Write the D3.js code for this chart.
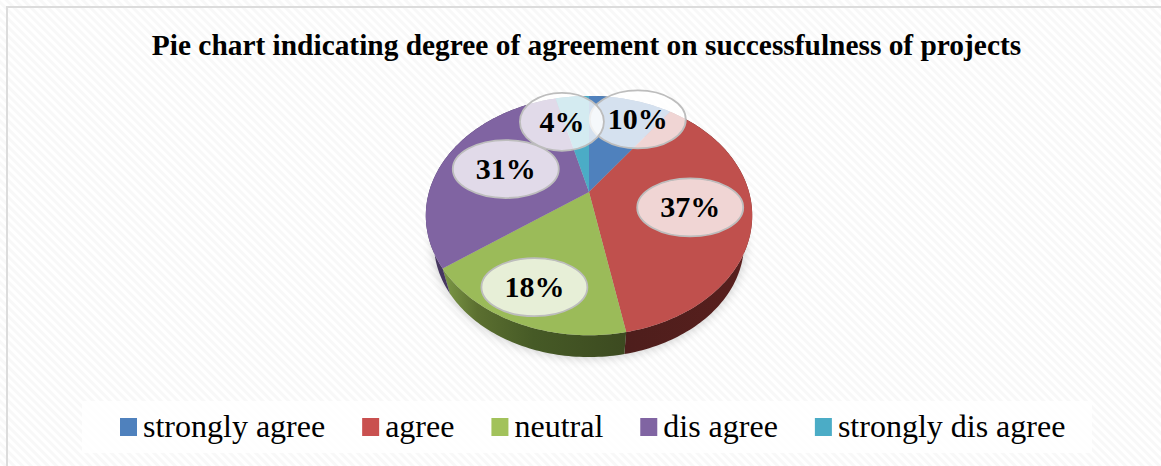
<!DOCTYPE html>
<html>
<head>
<meta charset="utf-8">
<script src="https://cdn.jsdelivr.net/npm/d3@7"></script>
<style>
  html, body { margin: 0; padding: 0; background: #fff; }
  svg { display: block; }
  text { font-family: "Liberation Serif", serif; fill: #000; }
</style>
</head>
<body>
<svg id="chart" width="1161" height="466"></svg>
<script>
const chartTitle = "Pie chart indicating degree of agreement on successfulness of projects";
const categories = ["strongly agree", "agree", "neutral", "dis agree", "strongly dis agree"];
const shares = [10, 37, 18, 31, 4];

const topColors = ["#4f81bd", "#c0504d", "#9bbb59", "#8064a2", "#4bacc6"];
const legendColors = ["#4f81bd", "#c9504f", "#a2c25b", "#8064a2", "#4bacc6"];

// Callouts were dragged off their slices: bearing (degrees) and fraction of the radius.
const calloutBearing = [25.8, 102, 202.4, 291, 344.5];
const calloutRadius = [0.80, 0.63, 0.77, 0.58, 0.72];

const svg = d3.select("#chart");
const defs = svg.append("defs");

// Diagonal hatch behind the whole chart
const hatch = defs.append("pattern")
  .attr("id", "hatch").attr("patternUnits", "userSpaceOnUse")
  .attr("width", 6).attr("height", 6)
  .attr("patternTransform", "rotate(45)");
hatch.append("rect").attr("width", 6).attr("height", 6).attr("fill", "#ffffff");
hatch.append("rect").attr("width", 6).attr("height", 3).attr("fill", "#f8f8f8");

const softEdge = defs.append("filter").attr("id", "softEdge")
  .attr("x", "-20%").attr("y", "-20%").attr("width", "140%").attr("height", "140%");
softEdge.append("feGaussianBlur").attr("stdDeviation", 6);

function sideGradient(id, stops) {
  const g = defs.append("linearGradient").attr("id", id)
    .attr("gradientUnits", "userSpaceOnUse")
    .attr("x1", 440).attr("x2", 752).attr("y1", 0).attr("y2", 0);
  stops.forEach(([o, c]) => g.append("stop").attr("offset", o).attr("stop-color", c));
}
sideGradient("sideGreen", [[0, "#7f9c48"], [0.12, "#5b6f30"], [0.3, "#465a26"], [0.6, "#3c4a20"]]);
sideGradient("sideRed", [[0.6, "#4e1e1c"], [0.95, "#571f1d"], [1, "#6d2a28"]]);

svg.append("rect").attr("width", 1161).attr("height", 466).attr("fill", "url(#hatch)");
svg.append("path").attr("d", "M7,466V7H1161")
  .attr("fill", "none").attr("stroke", "#dcdcdc").attr("stroke-width", 2);

svg.append("text").attr("x", 586.5).attr("y", 55)
  .attr("text-anchor", "middle")
  .attr("font-size", 29.4).attr("font-weight", "bold")
  .text(chartTitle);

// Tilted disc: perspective projection of the unit disc onto the page
const pieCentre = { x: 589, y: 192 };
const tilt = 0.197, scaleX = 160, scaleY = 115;
const baseShrink = 0.95, baseDrop = 29;
const toRadians = d3.scaleLinear().domain([0, 360]).range([0, 2 * Math.PI]);

function project(angle, r = 1) {
  const u = r * Math.sin(angle), v = -r * Math.cos(angle);
  const w = 1 - tilt * v;
  return [pieCentre.x + scaleX * u / w, pieCentre.y + scaleY * v / w];
}
function rim(a0, a1) {
  const n = Math.max(2, Math.ceil((a1 - a0) / 0.02));
  return d3.range(n + 1).map(i => project(a0 + (a1 - a0) * i / n));
}
// The lower edge of the wall recedes slightly, so it tapers towards the sides
const toBase = ([x, y]) => [
  pieCentre.x + baseShrink * (x - pieCentre.x),
  pieCentre.y + baseShrink * (y - pieCentre.y) + baseDrop
];

const slices = d3.pie().sort(null).startAngle(0).endAngle(2 * Math.PI)(shares);
const line = d3.line();

// Soft ground shadow under the disc
svg.append("path")
  .attr("d", line(rim(0, 2 * Math.PI).map(toBase)) + "Z")
  .attr("fill", "#000").attr("opacity", 0.22).attr("filter", "url(#softEdge)");

// Side wall: the rim swept down to the base edge
const sideFill = ["#2f4d73", "url(#sideRed)", "url(#sideGreen)", "#463760", "#2c6a7b"];
svg.append("g").selectAll("path").data(slices).join("path")
  .attr("d", d => {
    const top = rim(d.startAngle, d.endAngle);
    const bottom = top.map(toBase).reverse();
    return line(top.concat(bottom)) + "Z";
  })
  .attr("fill", (d, i) => sideFill[i]);

// Top face
svg.append("g").selectAll("path").data(slices).join("path")
  .attr("d", d => line([project(0, 0)].concat(rim(d.startAngle, d.endAngle))) + "Z")
  .attr("fill", (d, i) => topColors[i]);

// Percentage callouts
const callouts = svg.append("g").selectAll("g").data(shares).join("g")
  .attr("transform", (d, i) => {
    const [x, y] = project(toRadians(calloutBearing[i]), calloutRadius[i]);
    return `translate(${x},${y})`;
  });
callouts.append("ellipse")
  .attr("rx", (d, i) => [48, 53, 53, 53, 42][i]).attr("ry", 29)
  .attr("fill", "#fff").attr("fill-opacity", 0.76)
  .attr("stroke", "#bdbdbd").attr("stroke-width", 1.8);
callouts.append("text")
  .attr("y", 10).attr("text-anchor", "middle")
  .attr("font-size", 30).attr("font-weight", "bold")
  .text(d => d + "%");

// Legend strip
svg.append("rect").attr("x", 82).attr("y", 401).attr("width", 1010).attr("height", 52)
  .attr("fill", "#fff").attr("fill-opacity", 0.8);
const legend = svg.append("g");
let cursor = 120;
categories.forEach((name, i) => {
  legend.append("rect").attr("x", cursor).attr("y", 418).attr("width", 17).attr("height", 18)
    .attr("fill", legendColors[i]);
  const label = legend.append("text").attr("x", cursor + 23).attr("y", 437)
    .attr("font-size", 32).text(name);
  cursor += 23 + label.node().getComputedTextLength() + 37;
});
</script>
</body>
</html>
